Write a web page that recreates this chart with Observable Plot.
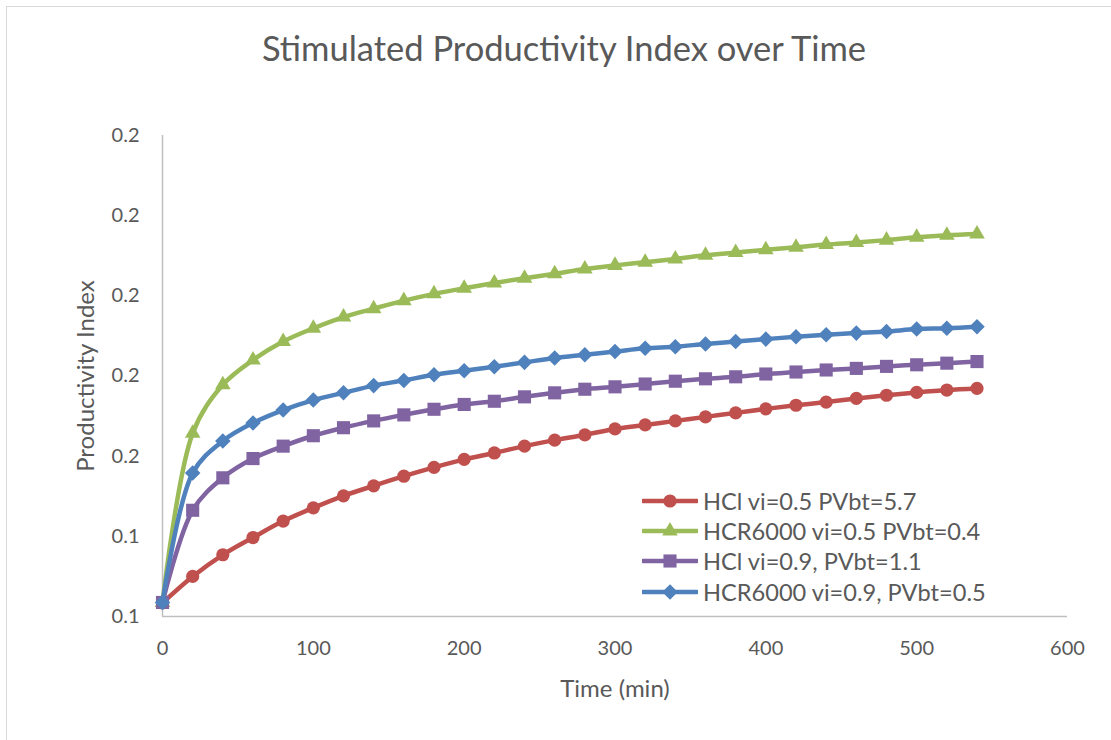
<!DOCTYPE html>
<html>
<head>
<meta charset="utf-8">
<script src="https://cdn.jsdelivr.net/npm/d3@7"></script>
<script src="https://cdn.jsdelivr.net/npm/@observablehq/plot@0.6"></script>
<style>
  body { margin: 0; background: #fff; font-family: Lato, "Open Sans", sans-serif; }
  #wrap { position: relative; width: 1111px; height: 740px; overflow: hidden; background: #fff; }
  #frame { position: absolute; left: 6px; top: 6px; width: 1200px; height: 900px; border: 1.5px solid #d9d9d9; box-sizing: border-box; }
  #title { position: relative; height: 100px; line-height: 96px; text-align: center; font-size: 34.5px; color: #595959; padding-left: 17px; box-sizing: border-box; }
  #chart { position: relative; }
  #legend { position: absolute; left: 642px; top: 486px; font-size: 23.6px; color: #595959; }
  #legend .row { display: flex; align-items: center; height: 30.2px; line-height: 30.2px; }
  #legend svg { margin-right: 5px; }
</style>
</head>
<body>
<div id="wrap">
  <div id="frame"></div>
  <div id="title">Stimulated Productivity Index over Time</div>
  <div id="chart"></div>
  <div id="legend"></div>
</div>
<script>
// ---- data ----
const times = [0,20,40,60,80,100,120,140,160,180,200,220,240,260,280,300,320,340,360,380,400,420,440,460,480,500,520,540];
const hclV05 = [0.1134,0.1200,0.1254,0.1297,0.1338,0.1371,0.1401,0.1426,0.1450,0.1472,0.1492,0.1508,0.1525,0.1540,0.1553,0.1568,0.1578,0.1588,0.1598,0.1608,0.1618,0.1627,0.1635,0.1644,0.1652,0.1659,0.1665,0.1669];
const hcrV05 = [0.1135,0.1557,0.1678,0.1740,0.1786,0.1819,0.1847,0.1868,0.1888,0.1905,0.1919,0.1932,0.1944,0.1955,0.1967,0.1976,0.1984,0.1992,0.2001,0.2008,0.2015,0.2021,0.2028,0.2033,0.2039,0.2046,0.2051,0.2054];
const hclV09 = [0.1135,0.1365,0.1446,0.1494,0.1525,0.1551,0.1571,0.1588,0.1603,0.1617,0.1629,0.1637,0.1648,0.1658,0.1667,0.1673,0.1680,0.1687,0.1693,0.1698,0.1705,0.1710,0.1715,0.1719,0.1724,0.1728,0.1732,0.1736];
const hcrV09 = [0.1135,0.1458,0.1538,0.1583,0.1615,0.1640,0.1658,0.1676,0.1689,0.1703,0.1713,0.1723,0.1734,0.1745,0.1753,0.1761,0.1769,0.1773,0.1780,0.1786,0.1792,0.1798,0.1803,0.1807,0.1811,0.1817,0.1819,0.1823];

const seriesNames = ["HCl vi=0.5 PVbt=5.7","HCR6000 vi=0.5 PVbt=0.4","HCl vi=0.9, PVbt=1.1","HCR6000 vi=0.9, PVbt=0.5"];
const seriesValues = [hclV05, hcrV05, hclV09, hcrV09];
const seriesColors = ["#C0504D","#9BBB59","#8064A2","#4F81BD"];
const seriesSymbols = ["circle","triangle","square","diamond2"];
const seriesR = [6.6, 5.8, 7.4, 7.0];

const xTicks = [0,100,200,300,400,500,600];
const yTicks = [0.11,0.13,0.15,0.17,0.19,0.21,0.23];
const yTickLabels = ["0.1","0.1","0.2","0.2","0.2","0.2","0.2"];

// ---- table ----
const rows = [];
seriesNames.forEach((name, i) => {
  times.forEach((t, j) => rows.push({series: name, idx: i, t, v: seriesValues[i][j]}));
});

const marks = [
  Plot.ruleX([0], {stroke: "#bfbfbf", strokeWidth: 1.5}),
  Plot.ruleY([0.11], {stroke: "#bfbfbf", strokeWidth: 1.5}),
  Plot.axisX({ticks: xTicks, tickSize: 0, tickPadding: 24, fontSize: 20, color: "#595959",
    label: "Time (min)", labelAnchor: "center", labelArrow: "none", labelOffset: 80}),
  Plot.axisY({ticks: yTicks, tickFormat: (d, i) => yTickLabels[i], tickSize: 0, tickPadding: 23, fontSize: 20, color: "#595959",
    label: "Productivity Index", labelAnchor: "center", labelArrow: "none", labelOffset: 86})
];
seriesNames.forEach((name, i) => {
  const data = rows.filter(r => r.idx === i);
  marks.push(Plot.line(data, {x: "t", y: "v", stroke: seriesColors[i], strokeWidth: 4.5, curve: "catmull-rom"}));
  marks.push(Plot.dot(data, {x: "t", y: "v", fill: seriesColors[i], stroke: "none", symbol: seriesSymbols[i], r: seriesR[i]}));
});

const chart = Plot.plot({
  width: 1111,
  height: 640,
  marginTop: 35,
  marginBottom: 124,
  marginLeft: 162,
  marginRight: 44,
  x: {domain: [0, 600]},
  y: {domain: [0.11, 0.23]},
  style: {fontFamily: "Lato, 'Open Sans', sans-serif", fontSize: "20px", color: "#595959", background: "transparent"},
  marks
});
document.getElementById("chart").appendChild(chart);
chart.querySelectorAll("g[aria-label='x-axis label'] text, g[aria-label='y-axis label'] text").forEach(t => {
  t.setAttribute("font-size", "24");
});

// ---- legend ----
const legend = document.getElementById("legend");
const symMap = {circle: d3.symbolCircle, triangle: d3.symbolTriangle, square: d3.symbolSquare, diamond2: d3.symbolDiamond2};
seriesNames.forEach((name, i) => {
  const row = document.createElement("div");
  row.className = "row";
  const svg = d3.create("svg").attr("width", 56).attr("height", 20);
  svg.append("line").attr("x1", 1).attr("x2", 55).attr("y1", 10).attr("y2", 10)
    .attr("stroke", seriesColors[i]).attr("stroke-width", 4.5).attr("stroke-linecap", "round");
  svg.append("path").attr("transform", "translate(28,10)")
    .attr("d", d3.symbol(symMap[seriesSymbols[i]], Math.PI * seriesR[i] * seriesR[i])())
    .attr("fill", seriesColors[i]);
  row.appendChild(svg.node());
  const span = document.createElement("span");
  span.textContent = name;
  row.appendChild(span);
  legend.appendChild(row);
});
</script>
</body>
</html>
